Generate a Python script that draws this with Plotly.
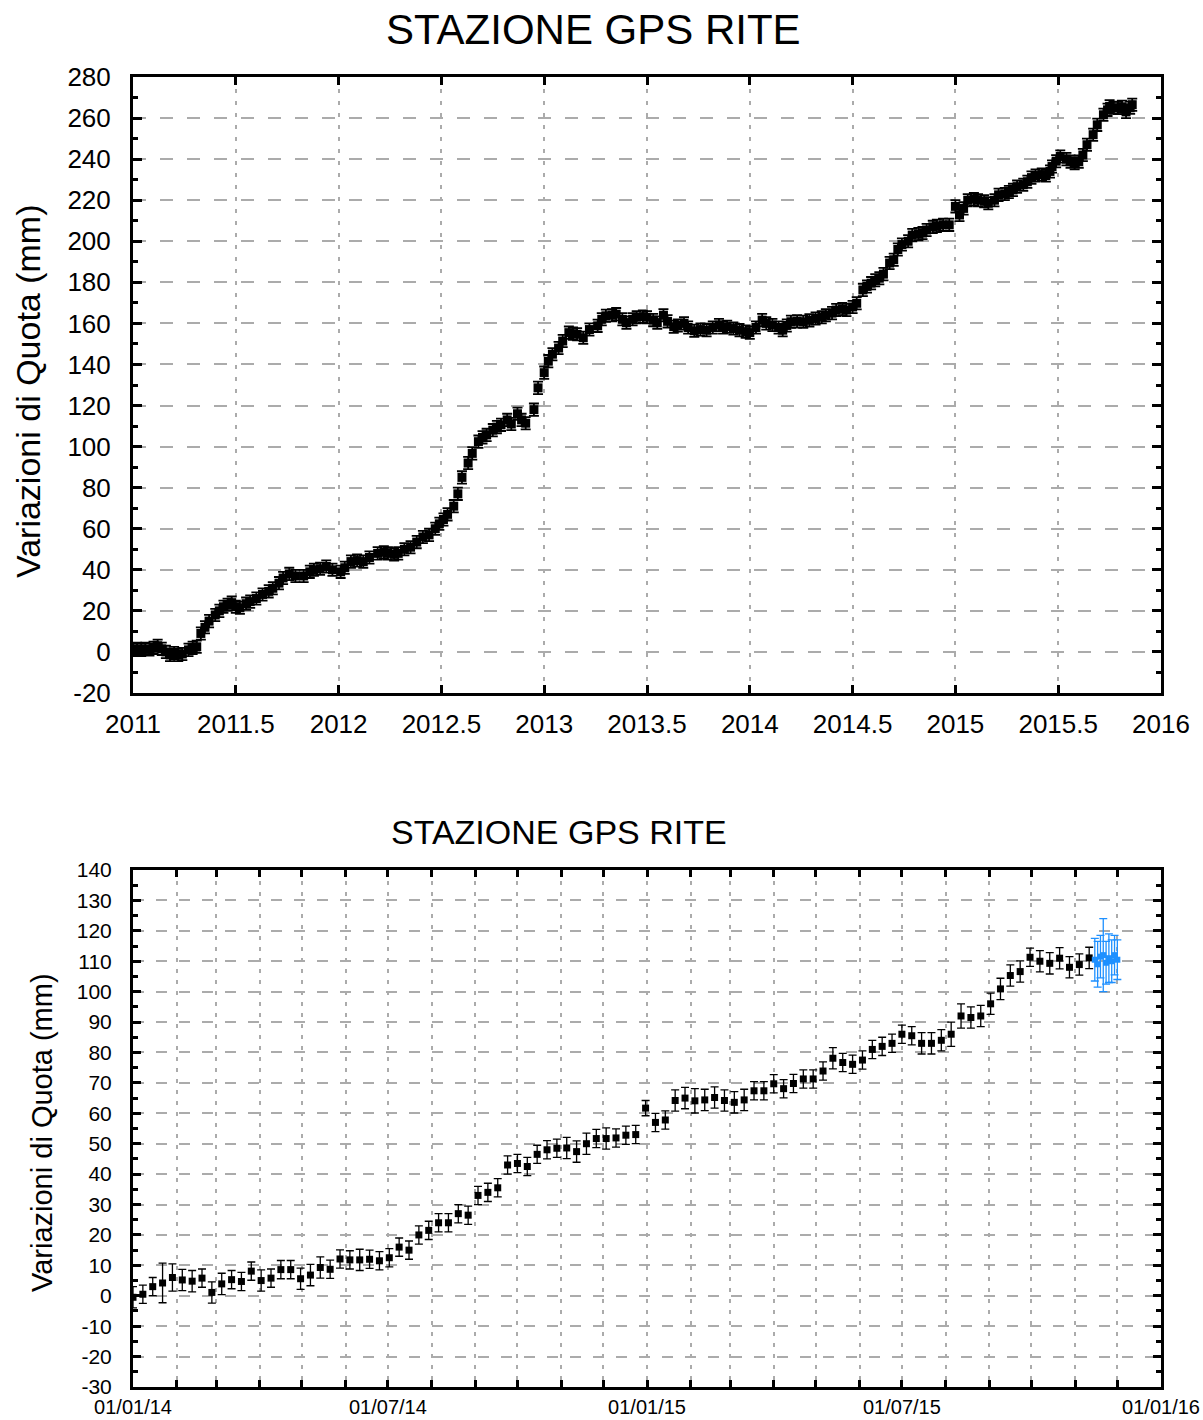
import plotly.graph_objects as go
import pandas as pd

# ---------------- data: top chart (decimal year, mm) ----------------
top_t = [2011.00, 2011.02, 2011.04, 2011.06, 2011.08, 2011.10, 2011.12, 2011.14, 2011.16, 2011.18,
         2011.20, 2011.22, 2011.24, 2011.27, 2011.29, 2011.31, 2011.33, 2011.35, 2011.37, 2011.40,
         2011.42, 2011.44, 2011.46, 2011.48, 2011.50, 2011.52, 2011.55, 2011.57, 2011.60, 2011.63,
         2011.66, 2011.68, 2011.71, 2011.73, 2011.76, 2011.79, 2011.83, 2011.86, 2011.88, 2011.91,
         2011.94, 2011.97, 2012.01, 2012.03, 2012.06, 2012.09, 2012.12, 2012.15, 2012.19, 2012.22,
         2012.24, 2012.27, 2012.29, 2012.32, 2012.35, 2012.38, 2012.41, 2012.44, 2012.47, 2012.49,
         2012.51, 2012.53, 2012.56, 2012.58, 2012.60, 2012.63, 2012.65, 2012.68, 2012.70, 2012.72,
         2012.75, 2012.77, 2012.79, 2012.82, 2012.84, 2012.87, 2012.89, 2012.91, 2012.95, 2012.97,
         2013.00, 2013.02, 2013.04, 2013.07, 2013.09, 2013.12, 2013.14, 2013.16, 2013.19, 2013.22,
         2013.26, 2013.28, 2013.30, 2013.33, 2013.35, 2013.38, 2013.40, 2013.43, 2013.45, 2013.48,
         2013.50, 2013.53, 2013.55, 2013.58, 2013.60, 2013.63, 2013.65, 2013.68, 2013.70, 2013.73,
         2013.76, 2013.79, 2013.82, 2013.85, 2013.87, 2013.89, 2013.92, 2013.95, 2013.98, 2014.00,
         2014.03, 2014.06, 2014.08, 2014.11, 2014.14, 2014.16, 2014.18, 2014.20, 2014.23, 2014.26,
         2014.29, 2014.32, 2014.35, 2014.37, 2014.40, 2014.42, 2014.45, 2014.47, 2014.50, 2014.52,
         2014.55, 2014.57, 2014.59, 2014.61, 2014.63, 2014.65, 2014.68, 2014.70, 2014.72, 2014.74,
         2014.77, 2014.79, 2014.82, 2014.84, 2014.86, 2014.89, 2014.91, 2014.94, 2014.97, 2015.00,
         2015.02, 2015.04, 2015.06, 2015.09, 2015.11, 2015.14, 2015.16, 2015.19, 2015.21, 2015.24,
         2015.26, 2015.28, 2015.30, 2015.33, 2015.35, 2015.37, 2015.39, 2015.42, 2015.44, 2015.46,
         2015.47, 2015.49, 2015.51, 2015.54, 2015.56, 2015.58, 2015.60, 2015.62, 2015.64, 2015.67,
         2015.69, 2015.72, 2015.74, 2015.75, 2015.77, 2015.79, 2015.81, 2015.83, 2015.85, 2015.86]
top_v = [1.0, 1.5, 1.0, 1.5, 1.2, 2.0, 3.0, 1.5, 0.0, -1.5,
         -0.5, -1.5, -1.0, 1.0, 2.0, 2.5, 9.0, 12.0, 15.0, 18.0,
         20.0, 22.0, 23.0, 24.0, 22.0, 21.5, 23.5, 24.5, 26.0, 28.0,
         29.5, 31.0, 33.5, 36.0, 38.0, 37.0, 37.0, 39.0, 40.0, 40.5,
         41.6, 40.0, 39.0, 41.0, 44.0, 44.5, 44.0, 46.0, 48.0, 48.5,
         48.0, 47.5, 48.0, 50.0, 51.0, 53.5, 56.0, 57.0, 60.0, 62.4,
         64.5, 67.0, 71.0, 77.0, 85.0, 92.0, 96.7, 102.4, 104.5, 105.7,
         108.0, 109.5, 110.6, 113.0, 111.0, 116.0, 113.0, 111.4, 118.0, 128.6,
         136.0, 141.6, 145.0, 148.0, 151.4, 155.5, 155.0, 154.7, 153.0, 157.0,
         158.8, 162.0, 163.7, 164.0, 164.5, 162.0, 160.4, 162.0, 163.0, 163.3,
         163.0, 161.6, 160.4, 164.0, 161.0, 158.4, 159.0, 160.0, 158.0, 156.4,
         157.0, 156.7, 158.0, 159.2, 158.0, 158.4, 157.5, 156.7, 156.0, 155.5,
         158.0, 161.6, 160.0, 159.2, 158.0, 156.7, 159.0, 160.8, 161.0, 160.8,
         161.5, 162.4, 163.0, 164.0, 165.0, 166.5, 167.0, 166.5, 168.0, 169.8,
         176.3, 178.0, 179.6, 181.0, 182.0, 184.0, 189.4, 191.0, 196.0, 198.4,
         200.0, 203.0, 203.5, 204.0, 205.5, 207.0, 207.5, 208.0, 208.0, 217.0,
         212.8, 216.0, 220.0, 220.5, 220.0, 219.5, 218.5, 220.0, 222.6, 223.0,
         224.0, 225.0, 226.6, 227.5, 229.0, 231.0, 232.0, 232.5, 232.0, 234.0,
         236.4, 239.0, 241.3, 240.0, 238.8, 238.0, 238.8, 242.0, 247.0, 251.9,
         256.7, 261.6, 264.0, 265.7, 265.0, 264.9, 265.5, 263.0, 265.0, 266.5]
top_err = 3.0
top_yticks = [-20, 0, 20, 40, 60, 80, 100, 120, 140, 160, 180, 200, 220, 240, 260, 280]
top_yticklabels = ["-20", "0", "20", "40", "60", "80", "100", "120", "140", "160",
                   "180", "200", "220", "240", "260", "280"]

# ---------------- data: bottom chart (weekly from 01/01/14, mm) ----------------
bot_start = "2014-01-01"
bot_v = [-0.5, 0.5, 3.0, 4.2, 6.0, 5.2, 4.8, 5.8, 1.1, 3.9,
         5.3, 4.7, 8.1, 5.0, 5.8, 8.6, 8.6, 5.6, 6.8, 9.3,
         8.7, 12.1, 11.8, 11.8, 12.0, 11.5, 12.5, 16.0, 15.0, 20.0,
         21.5, 24.0, 24.0, 27.0, 26.5, 33.0, 34.0, 35.5, 43.0, 43.5,
         42.5, 46.5, 48.0, 48.5, 48.6, 47.4, 50.0, 51.7, 51.7, 51.9,
         52.8, 53.0, 61.7, 57.0, 57.8, 64.2, 65.0, 64.1, 64.4, 65.2,
         64.2, 63.6, 64.4, 67.4, 67.4, 69.7, 68.1, 69.8, 71.3, 71.3,
         73.9, 78.1, 76.7, 76.1, 77.5, 81.0, 82.0, 83.0, 86.0, 85.5,
         83.0, 83.0, 84.0, 86.0, 92.0, 91.5, 92.0, 96.0, 100.9, 105.3,
         106.6, 111.3, 110.0, 109.3, 111.0, 108.0, 108.9, 111.1]
bot_err = [3.5, 3.0, 3.0, 6.5, 4.5, 3.5, 3.5, 3.0, 3.5, 3.5,
           3.0, 3.0, 3.0, 3.5, 3.0, 3.0, 3.0, 3.5, 3.5, 3.5,
           3.0, 3.0, 3.0, 3.5, 3.0, 3.0, 3.0, 3.0, 3.0, 3.0,
           3.0, 3.0, 3.0, 3.0, 3.0, 3.0, 3.0, 3.0, 3.0, 3.0,
           3.0, 3.0, 3.0, 3.0, 3.5, 3.5, 3.5, 3.0, 3.5, 3.0,
           3.0, 3.0, 2.5, 3.0, 3.0, 3.5, 3.5, 4.0, 3.5, 3.5,
           3.5, 3.5, 3.5, 3.0, 3.0, 3.0, 3.0, 3.0, 3.0, 3.0,
           3.0, 3.5, 3.0, 3.0, 3.0, 3.0, 3.0, 3.0, 3.0, 3.0,
           3.5, 3.5, 3.5, 4.0, 4.0, 3.5, 3.5, 3.5, 3.5, 3.5,
           3.5, 3.0, 3.5, 3.5, 3.5, 3.5, 3.5, 3.5]

blue_dates = ["2015-11-15", "2015-11-17", "2015-11-19", "2015-11-21", "2015-11-23",
              "2015-11-25", "2015-11-27", "2015-11-29", "2015-12-01"]
blue_v = [110.5, 109.0, 111.5, 112.0, 109.5, 111.0, 110.0, 112.0, 110.5]
blue_err = [7.0, 7.5, 7.0, 12.0, 7.0, 8.0, 7.0, 6.5, 6.5]

bot_yticks = [-30, -20, -10, 0, 10, 20, 30, 40, 50, 60, 70, 80, 90, 100, 110, 120, 130, 140]
bot_yticklabels = ["-30", "-20", "-10", "0", "10", "20", "30", "40", "50", "60", "70", "80",
                   "90", "100", "110", "120", "130", "140"]
month_ticks = pd.date_range("2014-01-01", "2016-01-01", freq="MS")
month_labels = {"2014-01-01": "01/01/14", "2014-07-01": "01/07/14", "2015-01-01": "01/01/15",
                "2015-07-01": "01/07/15", "2016-01-01": "01/01/16"}

TITLE = "STAZIONE GPS RITE"
YTITLE = "Variazioni di Quota (mm)"

# ---------------- figure ----------------
W, H = 1203, 1420
FONT = "Liberation Sans, Arial, sans-serif"
bot_dates = pd.date_range(bot_start, periods=len(bot_v), freq="7D")

fig = go.Figure()
fig.add_trace(go.Scatter(
    x=top_t, y=top_v, mode="markers",
    marker=dict(symbol="square", size=9, color="black"),
    error_y=dict(type="constant", value=top_err, color="black", thickness=1.8, width=5),
    xaxis="x", yaxis="y", showlegend=False))
fig.add_trace(go.Scatter(
    x=bot_dates, y=bot_v, mode="markers",
    marker=dict(symbol="square", size=7, color="black"),
    error_y=dict(type="data", array=bot_err, color="black", thickness=1.3, width=4),
    xaxis="x2", yaxis="y2", showlegend=False))
fig.add_trace(go.Scatter(
    x=pd.to_datetime(blue_dates), y=blue_v, mode="markers",
    marker=dict(symbol="square", size=6, color="#1E90FF"),
    error_y=dict(type="data", array=blue_err, color="#1E90FF", thickness=1.3, width=4),
    xaxis="x2", yaxis="y2", showlegend=False))

xd = [133 / W, 1161 / W]
top_dom = [1 - 693 / H, 1 - 77 / H]
bot_dom = [1 - 1387 / H, 1 - 870 / H]
GRID = "#ababab"

common_axis = dict(showline=True, linewidth=3, linecolor="black", mirror="ticks",
                   ticks="inside", tickcolor="black", zeroline=False, showgrid=True,
                   gridcolor=GRID, automargin=False)

fig.update_layout(
    width=W, height=H, margin=dict(l=0, r=0, t=0, b=0),
    paper_bgcolor="white", plot_bgcolor="white",
    font=dict(family=FONT, color="black"),
    xaxis=dict(domain=xd, anchor="y", range=[2011, 2016], tick0=2011, dtick=0.5,
               tickformat=".1~f",
               ticklen=8, tickwidth=3, gridwidth=2, griddash="4px,8px",
               tickfont=dict(size=26), ticklabelstandoff=6, **common_axis),
    yaxis=dict(domain=top_dom, anchor="x", range=[-20, 280],
               tickmode="array", tickvals=top_yticks, ticktext=top_yticklabels,
               ticklen=9, tickwidth=3, gridwidth=2, griddash="13px,14px",
               tickfont=dict(size=26), ticklabelstandoff=14,
               minor=dict(tickmode="linear", dtick=10, tick0=0, ticks="inside", ticklen=5,
                          tickwidth=3, tickcolor="black", showgrid=False),
               **common_axis),
    xaxis2=dict(domain=xd, anchor="y2", type="date",
                range=["2014-01-01", "2016-01-01"],
                tickmode="array", tickvals=month_ticks,
                ticktext=[month_labels.get(d.strftime("%Y-%m-%d"), "") for d in month_ticks],
                ticklen=7, tickwidth=3, gridwidth=1.5, griddash="4px,7px",
                tickfont=dict(size=20), ticklabelstandoff=0, **common_axis),
    yaxis2=dict(domain=bot_dom, anchor="x2", range=[-30, 140],
                tickmode="array", tickvals=bot_yticks, ticktext=bot_yticklabels,
                ticklen=8, tickwidth=3, gridwidth=1.5, griddash="11px,12px",
                tickfont=dict(size=21), ticklabelstandoff=14,
                minor=dict(tickmode="linear", dtick=5, tick0=0, ticks="inside", ticklen=5,
                           tickwidth=3, tickcolor="black", showgrid=False),
                **common_axis),
    annotations=[
        dict(text=TITLE, x=593 / W, y=1 - 30 / H, xref="paper", yref="paper",
             showarrow=False, font=dict(size=42), xanchor="center", yanchor="middle"),
        dict(text=YTITLE, x=28 / W, y=1 - 391 / H, xref="paper", yref="paper", textangle=-90,
             showarrow=False, font=dict(size=34), xanchor="center", yanchor="middle"),
        dict(text=TITLE, x=559 / W, y=1 - 832 / H, xref="paper", yref="paper",
             showarrow=False, font=dict(size=34), xanchor="center", yanchor="middle"),
        dict(text=YTITLE, x=42 / W, y=1 - 1133 / H, xref="paper", yref="paper", textangle=-90,
             showarrow=False, font=dict(size=29), xanchor="center", yanchor="middle"),
    ],
)

fig.write_html(
    "out.html",
    config={"displayModeBar": False},
    post_script="document.body.style.margin='0px';document.body.style.padding='0px';"
                "document.documentElement.style.overflow='hidden';",
)
